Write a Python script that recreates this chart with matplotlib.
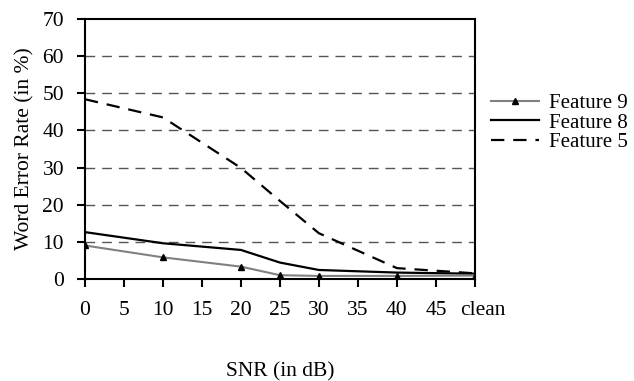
#!/usr/bin/env python

import matplotlib
matplotlib.use("Agg")
import matplotlib.pyplot as plt
from matplotlib.transforms import ScaledTranslation

tick_labels = ["0", "5", "10", "15", "20", "25", "30", "35", "40", "45", "clean"]
snr = ["0", "10", "20", "25", "30", "40", "clean"]
feature9 = [9.0, 5.8, 3.3, 1.0, 0.8, 0.8, 0.9]
feature8 = [12.6, 9.6, 7.8, 4.4, 2.4, 1.7, 1.4]
feature5 = [48.4, 43.5, 29.9, 21.0, 12.3, 2.9, 1.5]


def main():
    plt.rcParams["font.family"] = ["Liberation Serif", "DejaVu Serif"]
    fs = 15.5

    fig = plt.figure(figsize=(6.34, 3.81), dpi=100)
    ax = fig.add_axes([0.134, 0.268, 0.615, 0.682])

    x = [tick_labels.index(s) for s in snr]

    ax.plot(x, feature9, color="#808080", lw=1.5, marker="^", ms=4,
            mfc="black", mec="black", label="Feature 9", zorder=4)
    ax.plot(x, feature8, color="black", lw=1.6, label="Feature 8", zorder=3)
    ax.plot(x, feature5, color="black", lw=1.6, ls=(0, (6, 4)),
            label="Feature 5", zorder=3)

    for v in range(10, 70, 10):
        ax.axhline(v, color="#555555", lw=1, ls=(0, (7, 5)), zorder=1)

    ax.set_xlim(0, 10)
    ax.set_ylim(0, 70)
    ax.set_yticks(range(0, 80, 10))
    ax.set_xticks(range(len(tick_labels)))
    ax.set_xticklabels(tick_labels)
    ax.tick_params(axis="both", direction="out", length=6, width=1.5,
                   color="black", labelsize=fs)
    ax.tick_params(axis="x", pad=10)
    ax.tick_params(axis="y", pad=9)
    for sp in ax.spines.values():
        sp.set_linewidth(1.5)

    # "clean" sits a bit right of the last tick in the original
    last = ax.get_xticklabels()[-1]
    last.set_transform(last.get_transform() +
                       ScaledTranslation(6 / 72, 0, fig.dpi_scale_trans))

    ax.set_xlabel("SNR (in dB)", fontsize=fs, labelpad=30)
    ax.set_ylabel("Word Error Rate (in %)", fontsize=fs, labelpad=6)

    ax.legend(loc="center left", bbox_to_anchor=(1.02, 0.6), frameon=False,
              handlelength=2.3, handletextpad=0.5, labelspacing=0.0,
              fontsize=15, borderaxespad=0)

    fig.savefig("out.png", dpi=100)


if __name__ == '__main__':
    main()
